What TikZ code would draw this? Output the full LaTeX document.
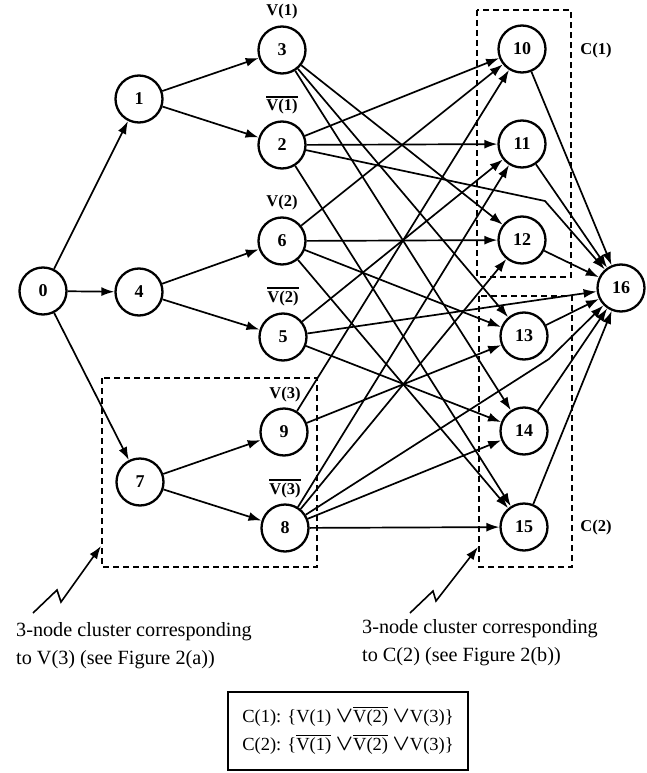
\documentclass[tikz,border=0pt]{standalone}
\usepackage{fontspec}
\usepackage{graphicx}
\setmainfont{Liberation Serif}
\usetikzlibrary{arrows.meta}
\newcommand{\ovl}[2]{\vbox{\hrule height #1\kern 1.6pt\hbox{#2}}}
\newcommand{\OR}{\scalebox{1.3}{\boldmath$\vee$}}
\begin{document}
\begin{tikzpicture}[x=1pt,y=-1pt,
  vnode/.style={circle,draw,line width=2.3pt,minimum size=47pt,inner sep=0pt,font=\fontsize{18}{18}\selectfont\bfseries},
  edge/.style={line width=1.7pt,-{Latex[length=13pt,width=9pt]}},
  clus/.style={draw,line width=1.4pt,dash pattern=on 6pt off 4pt},
  lab/.style={font=\fontsize{16.5}{17}\selectfont\bfseries,anchor=base,inner sep=0pt},
  captext/.style={font=\fontsize{20.2}{24}\selectfont,anchor=base west,inner sep=0pt},
  zig/.style={line width=1.6pt,-{Latex[length=13pt,width=9pt]}}
]
\useasboundingbox (0,0) rectangle (647,773);
% cluster boxes
\draw[clus] (102,378) rectangle (317,567);
\draw[clus] (477,10) rectangle (571,277);
\draw[clus] (479,296) rectangle (572,567);
% nodes
\node[vnode] (n0) at (43,291) {0};
\node[vnode] (n1) at (139,99) {1};
\node[vnode] (n4) at (139,292) {4};
\node[vnode] (n7) at (140,482) {7};
\node[vnode] (n3) at (282,50) {3};
\node[vnode] (n2) at (282,145) {2};
\node[vnode] (n6) at (282,241) {6};
\node[vnode] (n5) at (283,337) {5};
\node[vnode] (n9) at (284,432) {9};
\node[vnode] (n8) at (285,528) {8};
\node[vnode] (n10) at (522,49) {10};
\node[vnode] (n11) at (522,144) {11};
\node[vnode] (n12) at (522,240) {12};
\node[vnode] (n13) at (524,336) {13};
\node[vnode] (n14) at (524,431) {14};
\node[vnode] (n15) at (524,527) {15};
\node[vnode] (n16) at (621,288) {16};
% labels
\node[lab] (l3) at (282,16) {V(1)};
\node[lab] (l2) at (282,111) {\ovl{2pt}{V(1)}};
\node[lab] (l6) at (282,206) {V(2)};
\node[lab] (l5) at (283,302) {\ovl{2pt}{V(2)}};
\node[lab] (l9) at (285,398) {V(3)};
\node[lab] (l8) at (285,494) {\ovl{2pt}{V(3)}};
\node[lab] (lc1) at (596,55) {C(1)};
\node[lab] (lc2) at (596,531) {C(2)};
% left edges
\draw[edge] (n0) -- (n1);
\draw[edge] (n0) -- (n4);
\draw[edge] (n0) -- (n7);
\draw[edge] (n1) -- (n3);
\draw[edge] (n1) -- (n2);
\draw[edge] (n4) -- (n6);
\draw[edge] (n4) -- (n5);
\draw[edge] (n7) -- (n9);
\draw[edge] (n7) -- (n8);
% literal -> clause edges
\draw[edge] (n2) -- (n10);
\draw[edge] (n6) -- (n10);
\draw[edge] (n9) -- (n10);
\draw[edge] (n2) -- (n11);
\draw[edge] (n5) -- (n11);
\draw[edge] (n8) -- (n11);
\draw[edge] (n3) -- (n12);
\draw[edge] (n6) -- (n12);
\draw[edge] (n8) -- (n12);
\draw[edge] (n3) -- (n13);
\draw[edge] (n6) -- (n13);
\draw[edge] (n9) -- (n13);
\draw[edge] (n3) -- (n14);
\draw[edge] (n5) -- (n14);
\draw[edge] (n8) -- (n14);
\draw[edge] (n2) -- (n15);
\draw[edge] (n6) -- (n15);
\draw[edge] (n8) -- (n15);
% to sink
\coordinate (b2) at (545,201);
\coordinate (b8) at (549,359);
\draw[edge] (n10) -- (n16);
\draw[edge] (n11) -- (n16);
\draw[edge] (n12) -- (n16);
\draw[edge] (n13) -- (n16);
\draw[edge] (n14) -- (n16);
\draw[edge] (n15) -- (n16);
\draw[edge] (n5) -- (n16);
\draw[edge] (n2) -- (b2) -- (n16);
\draw[edge] (n8) -- (b8) -- (n16);
% zigzag pointers
\coordinate (za1) at (33,613);
\coordinate (za2) at (57,590);
\coordinate (za3) at (61,602);
\coordinate (za4) at (101,546);
\draw[zig] (za1) -- (za2) -- (za3) -- (za4);
\coordinate (zb1) at (410,613);
\coordinate (zb2) at (433,591);
\coordinate (zb3) at (436,601);
\coordinate (zb4) at (478,547);
\draw[zig] (zb1) -- (zb2) -- (zb3) -- (zb4);
% captions
\node[captext] (ca1) at (16,636) {3-node cluster corresponding};
\node[captext] (ca2) at (16,664) {to V(3) (see Figure 2(a))};
\node[captext] (cb1) at (362,633) {3-node cluster corresponding};
\node[captext] (cb2) at (362,661) {to C(2) (see Figure 2(b))};
% formula box
\node[draw,line width=1.8pt,minimum width=240pt,minimum height=78pt,align=left,inner sep=0pt,
  font=\fontsize{18.5}{28}\selectfont] (fbox) at (348,731)
  {C(1): \{V(1) \OR\ovl{1.2pt}{V(2)} \OR V(3)\}\\C(2): \{\ovl{1.2pt}{V(1)} \OR\ovl{1.2pt}{V(2)} \OR V(3)\}};
\end{tikzpicture}
\end{document}
